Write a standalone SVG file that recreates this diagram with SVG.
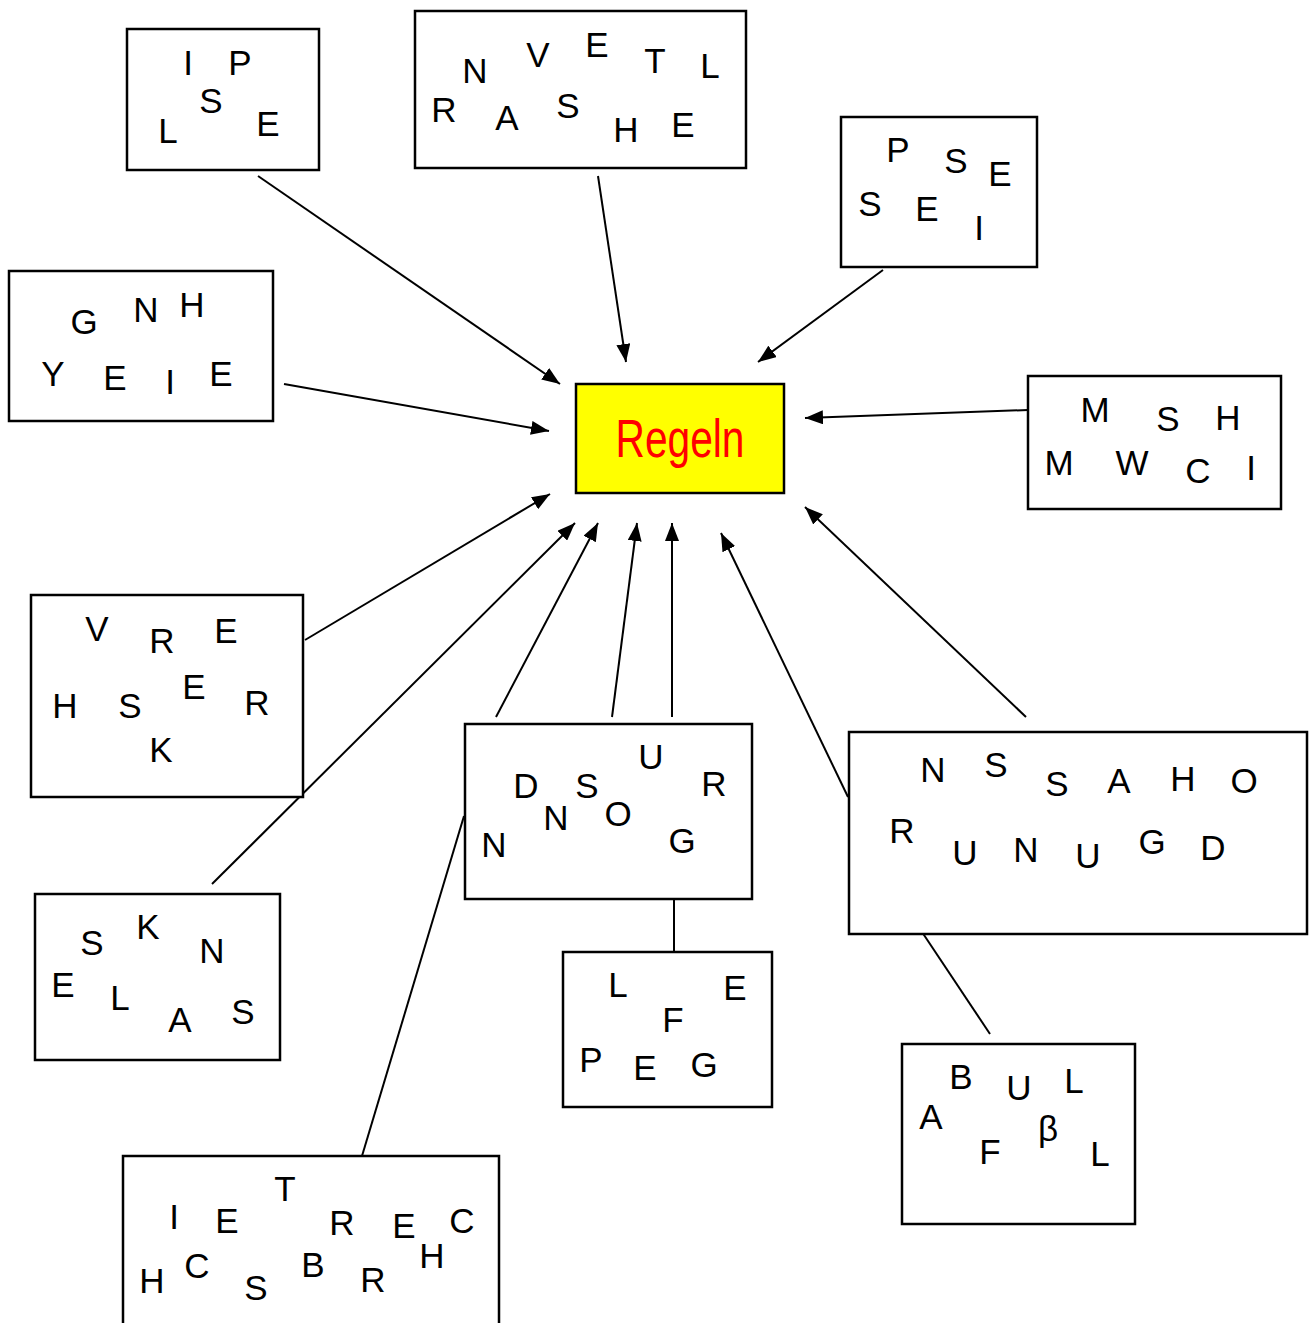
<svg xmlns="http://www.w3.org/2000/svg" width="1309" height="1323" viewBox="0 0 1309 1323">
<defs>
<marker id="ah" markerUnits="userSpaceOnUse" markerWidth="18" markerHeight="14" refX="18" refY="7" orient="auto">
<path d="M0,0 L18,7 L0,14 z" fill="#000"/>
</marker>
</defs>
<style>
.box{fill:#fff;stroke:#000;stroke-width:2.5}
.c{stroke:#000;stroke-width:2;fill:none}
.a{marker-end:url(#ah)}
text{font-family:"Liberation Sans Narrow","Liberation Sans",Arial,sans-serif;font-size:35px;fill:#000;text-anchor:middle}
.t{font-size:53px;fill:#ff0000}
</style>
<rect width="1309" height="1323" fill="#fff"/>
<g id="connectors">
<line class="c a" x1="258" y1="176" x2="560" y2="384"/>
<line class="c a" x1="598" y1="176" x2="626" y2="362"/>
<line class="c a" x1="883" y1="270" x2="758" y2="362"/>
<line class="c a" x1="284" y1="384" x2="549" y2="431"/>
<line class="c a" x1="1028" y1="410" x2="805" y2="418"/>
<line class="c a" x1="305" y1="640" x2="550" y2="494"/>
<line class="c a" x1="212" y1="884" x2="575" y2="523"/>
<line class="c a" x1="496" y1="717" x2="598" y2="523"/>
<line class="c a" x1="612" y1="717" x2="637" y2="523"/>
<line class="c a" x1="672" y1="717" x2="672" y2="523"/>
<line class="c a" x1="848" y1="797" x2="721" y2="533"/>
<line class="c a" x1="1026" y1="717" x2="805" y2="507"/>
<line class="c" x1="362" y1="1156" x2="464" y2="816"/>
<line class="c" x1="922" y1="932" x2="990" y2="1034"/>
<line class="c" x1="674" y1="896" x2="674" y2="952"/>
</g>
<g id="regeln">
<rect x="576" y="384" width="208" height="109" fill="#ffff00" stroke="#000" stroke-width="2.5"/>
<text class="t" x="680" y="457" textLength="129" lengthAdjust="spacingAndGlyphs">Regeln</text>
</g>
<g id="n1">
<rect class="box" x="127" y="29" width="192" height="141"/>
<text x="188" y="75">I</text><text x="240" y="75">P</text><text x="211" y="113">S</text><text x="168" y="143">L</text><text x="268" y="136">E</text>
</g>
<g id="n2">
<rect class="box" x="415" y="11" width="331" height="157"/>
<text x="444" y="122">R</text><text x="475" y="83">N</text><text x="507" y="130">A</text><text x="538" y="67">V</text><text x="568" y="118">S</text><text x="597" y="57">E</text><text x="626" y="142">H</text><text x="655" y="73">T</text><text x="683" y="137">E</text><text x="710" y="78">L</text>
</g>
<g id="n3">
<rect class="box" x="841" y="117" width="196" height="150"/>
<text x="898" y="162">P</text><text x="956" y="173">S</text><text x="1000" y="186">E</text><text x="870" y="216">S</text><text x="927" y="221">E</text><text x="979" y="240">I</text>
</g>
<g id="n4">
<rect class="box" x="9" y="271" width="264" height="150"/>
<text x="84" y="334">G</text><text x="146" y="322">N</text><text x="192" y="317">H</text><text x="53" y="386">Y</text><text x="115" y="390">E</text><text x="170" y="394">I</text><text x="221" y="386">E</text>
</g>
<g id="n5">
<rect class="box" x="1028" y="376" width="253" height="133"/>
<text x="1095" y="422">M</text><text x="1168" y="431">S</text><text x="1228" y="430">H</text><text x="1059" y="475">M</text><text x="1132" y="475">W</text><text x="1198" y="483">C</text><text x="1251" y="480">I</text>
</g>
<g id="n6">
<rect class="box" x="31" y="595" width="272" height="202"/>
<text x="97" y="641">V</text><text x="162" y="653">R</text><text x="226" y="643">E</text><text x="194" y="699">E</text><text x="65" y="718">H</text><text x="130" y="718">S</text><text x="257" y="715">R</text><text x="161" y="762">K</text>
</g>
<g id="n7">
<rect class="box" x="35" y="894" width="245" height="166"/>
<text x="92" y="955">S</text><text x="148" y="939">K</text><text x="212" y="963">N</text><text x="63" y="997">E</text><text x="120" y="1010">L</text><text x="180" y="1032">A</text><text x="243" y="1024">S</text>
</g>
<g id="n8">
<rect class="box" x="465" y="724" width="287" height="175"/>
<text x="526" y="798">D</text><text x="587" y="798">S</text><text x="651" y="769">U</text><text x="714" y="796">R</text><text x="556" y="830">N</text><text x="618" y="826">O</text><text x="494" y="857">N</text><text x="682" y="853">G</text>
</g>
<g id="n9">
<rect class="box" x="563" y="952" width="209" height="155"/>
<text x="618" y="997">L</text><text x="735" y="1000">E</text><text x="673" y="1032">F</text><text x="591" y="1072">P</text><text x="645" y="1080">E</text><text x="704" y="1077">G</text>
</g>
<g id="n10">
<rect class="box" x="849" y="732" width="458" height="202"/>
<text x="933" y="782">N</text><text x="996" y="777">S</text><text x="1057" y="796">S</text><text x="1119" y="793">A</text><text x="1183" y="791">H</text><text x="1244" y="793">O</text>
<text x="902" y="843">R</text><text x="965" y="865">U</text><text x="1026" y="862">N</text><text x="1088" y="868">U</text><text x="1152" y="854">G</text><text x="1213" y="860">D</text>
</g>
<g id="n11">
<rect class="box" x="902" y="1044" width="233" height="180"/>
<text x="961" y="1089">B</text><text x="1019" y="1100">U</text><text x="1074" y="1093">L</text><text x="931" y="1129">A</text><text x="1048" y="1141">β</text><text x="990" y="1164">F</text><text x="1100" y="1166">L</text>
</g>
<g id="n12">
<rect class="box" x="123" y="1156" width="376" height="200"/>
<text x="285" y="1201">T</text><text x="174" y="1229">I</text><text x="227" y="1233">E</text><text x="342" y="1235">R</text><text x="404" y="1238">E</text><text x="462" y="1233">C</text>
<text x="152" y="1293">H</text><text x="197" y="1278">C</text><text x="256" y="1300">S</text><text x="313" y="1277">B</text><text x="373" y="1292">R</text><text x="432" y="1268">H</text>
</g>
</svg>
